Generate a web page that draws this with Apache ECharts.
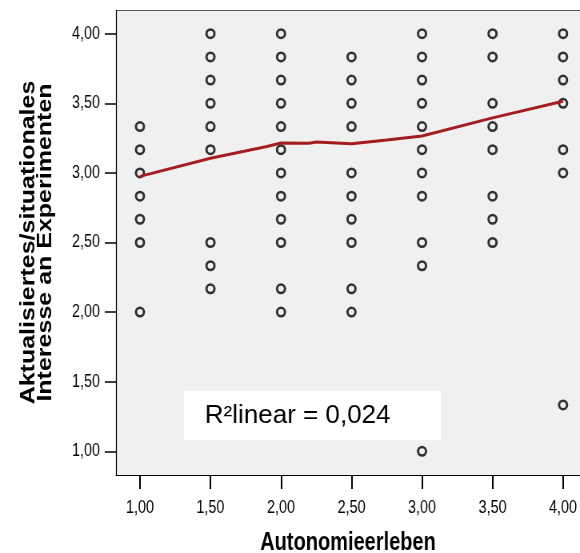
<!DOCTYPE html>
<html>
<head>
<meta charset="utf-8">
<script src="https://cdn.jsdelivr.net/npm/echarts@6/dist/echarts.min.js"></script>
<style>
  html, body { margin: 0; padding: 0; background: #fff; overflow: hidden; }
  /* SPSS-Export ist horizontal gestaucht: Diagramm breiter zeichnen und per CSS auf 580px stauchen */
  #main { width: 725px; height: 553px; transform: scaleX(0.8); transform-origin: 0 0; }
</style>
</head>
<body>
<div id="main"></div>
<script>
  // Autonomieerleben-Stufen (x) und die dort vorkommenden y-Werte
  var xLevels = [1.0, 1.5, 2.0, 2.5, 3.0, 3.5, 4.0];
  var yAt1_0 = [3.333, 3.167, 3.0, 2.833, 2.667, 2.5, 2.0];
  var yAt1_5 = [4.0, 3.833, 3.667, 3.5, 3.333, 3.167, 2.5, 2.333, 2.167];
  var yAt2_0 = [4.0, 3.833, 3.667, 3.5, 3.333, 3.167, 3.0, 2.833, 2.667, 2.5, 2.167, 2.0];
  var yAt2_5 = [3.833, 3.667, 3.5, 3.333, 3.0, 2.833, 2.667, 2.5, 2.167, 2.0];
  var yAt3_0 = [4.0, 3.833, 3.667, 3.5, 3.333, 3.167, 3.0, 2.833, 2.5, 2.333, 1.0];
  var yAt3_5 = [4.0, 3.833, 3.5, 3.333, 3.167, 2.833, 2.667, 2.5];
  var yAt4_0 = [4.0, 3.833, 3.667, 3.5, 3.167, 3.0, 1.333];
  // Anpassungslinie (Loess)
  var fitX = [1.0, 1.5, 1.9, 2.0, 2.2, 2.25, 2.5, 2.75, 3.0, 3.5, 4.0];
  var fitY = [2.975, 3.105, 3.19, 3.215, 3.213, 3.222, 3.21, 3.237, 3.265, 3.395, 3.515];
  var tickValues = [1.0, 1.5, 2.0, 2.5, 3.0, 3.5, 4.0];
  var r2Text = 'R²linear = 0,024';

  var columns = [yAt1_0, yAt1_5, yAt2_0, yAt2_5, yAt3_0, yAt3_5, yAt4_0];
  var points = [];
  columns.forEach(function (col, i) {
    col.forEach(function (y) { points.push([xLevels[i], y]); });
  });
  var fitData = fitX.map(function (x, i) { return [x, fitY[i]]; });

  function fmt(v) { return v.toFixed(2).replace('.', ','); }

  var font = '"Liberation Sans", Arial, sans-serif';
  var myChart = echarts.init(document.getElementById('main'));
  var option = {
    animation: false,
    grid: {
      left: 145, top: 10, right: 0, bottom: 78,
      outerBoundsMode: 'none',
      containLabel: false,
      show: true,
      backgroundColor: '#f0f0f0',
      borderWidth: 0
    },
    xAxis: [{
      type: 'value',
      min: 0.83, max: 4.12,
      name: 'Autonomieerleben',
      nameLocation: 'middle',
      nameGap: 56,
      nameTextStyle: { fontFamily: font, fontWeight: 'bold', fontSize: 25, color: '#000' },
      axisLine: { show: true, onZero: false, lineStyle: { color: '#000', width: 1 } },
      splitLine: { show: false },
      axisTick: { show: true, inside: false, length: 14, customValues: tickValues, lineStyle: { color: '#000', width: 2 } },
      axisLabel: { customValues: tickValues, formatter: fmt, margin: 24, fontFamily: font, fontSize: 18, color: '#000' }
    }, {
      // obere Rahmenlinie
      type: 'value', position: 'top',
      min: 0.83, max: 4.12,
      axisLine: { show: true, onZero: false, lineStyle: { color: '#555', width: 1 } },
      axisTick: { show: false }, axisLabel: { show: false }, splitLine: { show: false }
    }],
    yAxis: {
      type: 'value',
      min: 0.83, max: 4.17,
      name: 'Aktualisiertes/situationales\nInteresse an Experimenten',
      nameLocation: 'middle',
      nameRotate: 90,
      nameGap: 77,
      nameTextStyle: { fontFamily: font, fontWeight: 'bold', fontSize: 25, lineHeight: 21, color: '#000' },
      axisLine: { show: true, onZero: false, lineStyle: { color: '#000', width: 1.25 } },
      splitLine: { show: false },
      axisTick: { show: true, inside: false, length: 14, customValues: tickValues, lineStyle: { color: '#000', width: 1.5 } },
      axisLabel: { customValues: tickValues, formatter: fmt, margin: 20, fontFamily: font, fontSize: 18, color: '#000' }
    },
    graphic: [
      {
        type: 'rect', left: 230, top: 391, z: 5,
        shape: { width: 321, height: 49 },
        style: { fill: '#fff' }
      },
      {
        // Text im Kasten ist im Original nicht gestaucht
        type: 'text', x: 256, y: 416, scaleX: 1.25, z: 6,
        style: { text: r2Text, fill: '#000', font: '26px ' + font, verticalAlign: 'middle' }
      }
    ],
    series: [
      {
        type: 'scatter',
        data: points,
        symbol: 'circle',
        symbolSize: [10, 8.5],
        itemStyle: { color: 'rgba(0,0,0,0)', borderColor: '#000', borderWidth: 2.7 },
        z: 2
      },
      {
        type: 'line',
        data: fitData,
        showSymbol: false,
        smooth: false,
        lineStyle: { color: '#a51c20', width: 3 },
        z: 3
      }
    ]
  };
  myChart.setOption(option);
</script>
</body>
</html>
